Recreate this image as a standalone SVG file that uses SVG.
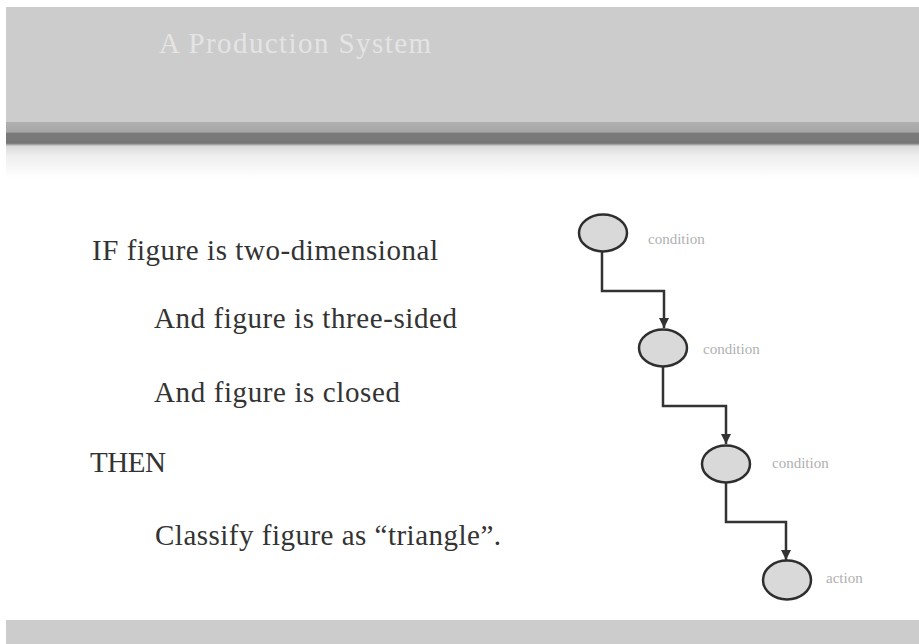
<svg xmlns="http://www.w3.org/2000/svg" width="919" height="644" viewBox="0 0 919 644">
<defs>
<linearGradient id="band" gradientUnits="userSpaceOnUse" x1="0" y1="122" x2="0" y2="178">
<stop offset="0" stop-color="#b0b0b0"/>
<stop offset="0.18" stop-color="#a6a6a6"/>
<stop offset="0.2" stop-color="#7a7a7a"/>
<stop offset="0.38" stop-color="#777777"/>
<stop offset="0.43" stop-color="#dadada"/>
<stop offset="0.6" stop-color="#eeeeee"/>
<stop offset="1" stop-color="#ffffff"/>
</linearGradient>
<marker id="arr" viewBox="0 0 10 10" refX="10" refY="5" markerWidth="4" markerHeight="4" orient="auto" markerUnits="strokeWidth">
<path d="M0,0 L10,5 L0,10 z" fill="#333"/>
</marker>
<style>
.body{font-family:"Liberation Serif","DejaVu Serif",serif;font-size:29px;fill:#333}
.lbl{font-family:"Liberation Serif","DejaVu Serif",serif;font-size:15px;fill:#b0b0b0}
.node ellipse{fill:#d9d9d9;stroke:#2e2e2e;stroke-width:2.5}
.conn{fill:none;stroke:#333;stroke-width:2.5;marker-end:url(#arr)}
</style>
</defs>
<rect width="919" height="644" fill="#ffffff"/>
<rect x="6" y="7" width="913" height="116" fill="#cccccc"/>
<rect x="6" y="122" width="913" height="56" fill="url(#band)"/>
<rect x="6" y="620" width="913" height="24" fill="#cccccc"/>
<text x="159" y="53" style="font-family:'Liberation Serif','DejaVu Serif',serif;font-size:29px;fill:#e4e4e4" textLength="272">A Production System</text>
<g id="rule">
<text class="body" x="92" y="260" textLength="346">IF figure is two-dimensional</text>
<text class="body" x="154" y="328" textLength="303">And figure is three-sided</text>
<text class="body" x="154" y="402" textLength="246">And figure is closed</text>
<text class="body" x="90" y="472" textLength="76">THEN</text>
<text class="body" x="155" y="545" textLength="346">Classify figure as “triangle”.</text>
</g>
<g id="connectors">
<path class="conn" d="M602,252 V291 H664 V328"/>
<path class="conn" d="M663,367 V406 H726 V444"/>
<path class="conn" d="M726,483 V522 H786 V560"/>
</g>
<g id="node1" class="node"><ellipse cx="603" cy="233" rx="24" ry="18.5"/><text class="lbl" x="648" y="244">condition</text></g>
<g id="node2" class="node"><ellipse cx="663" cy="348" rx="24" ry="18.5"/><text class="lbl" x="703" y="354">condition</text></g>
<g id="node3" class="node"><ellipse cx="726" cy="464" rx="24" ry="18.5"/><text class="lbl" x="772" y="468">condition</text></g>
<g id="node4" class="node"><ellipse cx="787" cy="580" rx="24" ry="19.5"/><text class="lbl" x="826" y="583">action</text></g>
</svg>
